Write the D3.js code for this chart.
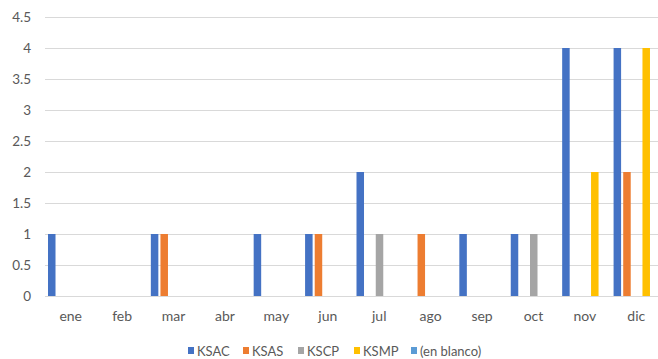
<!DOCTYPE html>
<html>
<head>
<meta charset="utf-8">
<script src="https://cdn.jsdelivr.net/npm/d3@7"></script>
<style>
  html, body { margin: 0; padding: 0; background: #fff; }
  svg { display: block; }
  text { font-family: Lato, "Open Sans", sans-serif; fill: #595959; }
</style>
</head>
<body>
<svg id="chart" width="658" height="359"></svg>
<script>
// Monthly counts per code
const months = ["ene", "feb", "mar", "abr", "may", "jun", "jul", "ago", "sep", "oct", "nov", "dic"];
const seriesNames = ["KSAC", "KSAS", "KSCP", "KSMP", "(en blanco)"];
const seriesColors = ["#4472C4", "#ED7D31", "#A5A5A5", "#FFC000", "#5B9BD5"];
const KSAC = [1, 0, 1, 0, 1, 1, 2, 0, 1, 1, 4, 4];
const KSAS = [0, 0, 1, 0, 0, 1, 0, 1, 0, 0, 0, 2];
const KSCP = [0, 0, 0, 0, 0, 0, 1, 0, 0, 1, 0, 0];
const KSMP = [0, 0, 0, 0, 0, 0, 0, 0, 0, 0, 2, 4];
const enBlanco = [0, 0, 0, 0, 0, 0, 0, 0, 0, 0, 0, 0];
const yTicks = [0, 0.5, 1, 1.5, 2, 2.5, 3, 3.5, 4, 4.5];

const seriesValues = [KSAC, KSAS, KSCP, KSMP, enBlanco];
const svg = d3.select("#chart");

const x0 = d3.scaleBand().domain(months).range([45, 662]).padding(0);
const x1 = d3.scaleBand().domain(seriesNames)
  .range([3, x0.bandwidth() - 2.4]).paddingInner(0.22).paddingOuter(0);
const y = d3.scaleLinear().domain([0, 4.5]).range([296, 17]);

// Horizontal gridlines
svg.append("g")
  .selectAll("line")
  .data(yTicks)
  .join("line")
  .attr("x1", 45).attr("x2", 658)
  .attr("y1", d => Math.round(y(d)) + 0.5)
  .attr("y2", d => Math.round(y(d)) + 0.5)
  .attr("stroke", "#d9d9d9")
  .attr("stroke-width", 1);

// Y axis labels
const yAxis = d3.axisLeft(y).tickValues(yTicks).tickSize(0).tickPadding(0)
  .tickFormat(d => String(d));
svg.append("g")
  .attr("transform", "translate(31,0)")
  .call(yAxis)
  .call(g => g.select(".domain").remove())
  .call(g => g.selectAll("text")
    .style("font-family", "Lato, 'Open Sans', sans-serif")
    .attr("font-size", 13.5).attr("fill", "#595959"));

// Bars
const groups = svg.append("g")
  .selectAll("g")
  .data(months)
  .join("g")
  .attr("transform", d => `translate(${x0(d)},0)`);

groups.selectAll("rect")
  .data((m, i) => seriesNames.map((s, k) => ({ s, k, v: seriesValues[k][i] })).filter(d => d.v > 0))
  .join("rect")
  .attr("x", d => x1(d.s))
  .attr("width", x1.bandwidth())
  .attr("y", d => y(d.v))
  .attr("height", d => y(0) - y(d.v))
  .attr("fill", d => seriesColors[d.k]);

// X axis labels
const xAxis = d3.axisBottom(x0).tickSize(0).tickPadding(0);
svg.append("g")
  .attr("transform", "translate(0,311)")
  .call(xAxis)
  .call(g => g.select(".domain").remove())
  .call(g => g.selectAll("text")
    .style("font-family", "Lato, 'Open Sans', sans-serif")
    .attr("font-size", 14).attr("fill", "#595959"));

// Legend
const legendX = [188, 243, 298, 354, 411];
const legend = svg.append("g")
  .selectAll("g")
  .data(seriesNames)
  .join("g")
  .attr("transform", (d, i) => `translate(${legendX[i]},347)`);
legend.append("rect")
  .attr("x", 0).attr("y", 0).attr("width", 6).attr("height", 7)
  .attr("fill", (d, i) => seriesColors[i]);
legend.append("text")
  .attr("x", 9).attr("y", 4)
  .attr("dy", "0.35em")
  .attr("font-size", 13)
  .text(d => d);
</script>
</body>
</html>
